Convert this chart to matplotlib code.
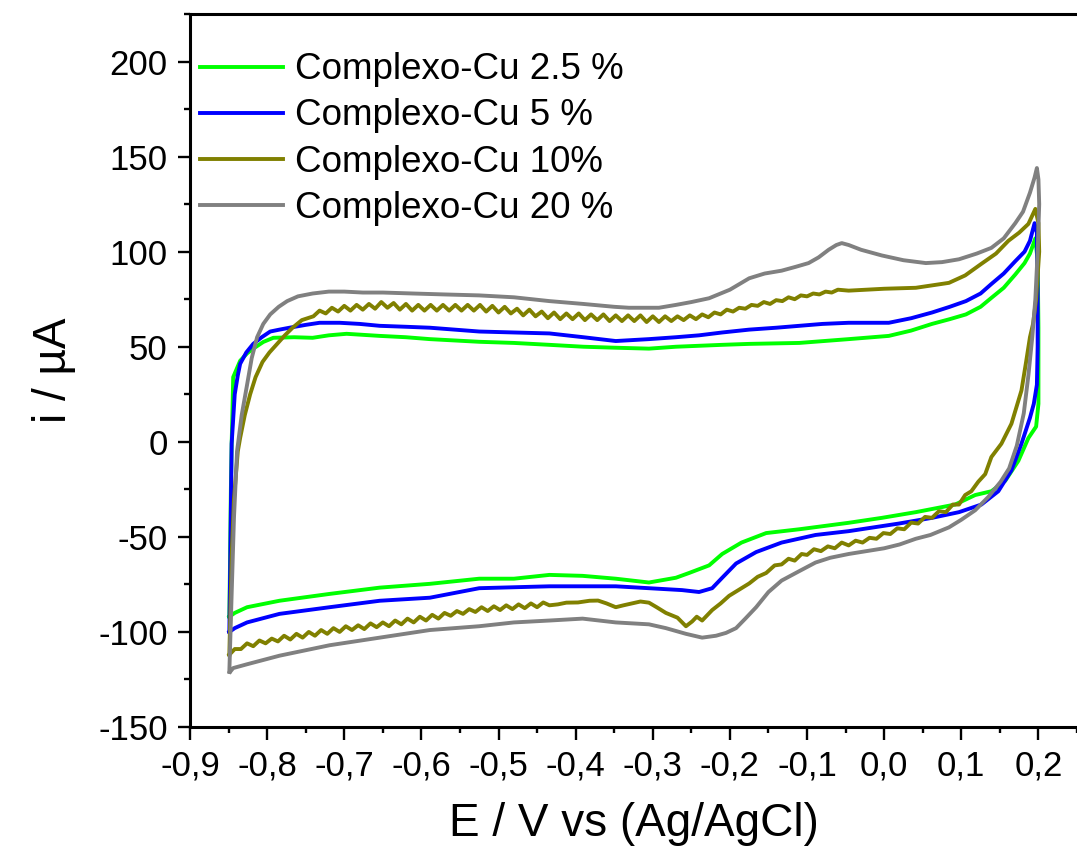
import matplotlib.pyplot as plt
from matplotlib.ticker import MultipleLocator

plt.rcParams['font.family'] = ['Liberation Sans', 'DejaVu Sans']

# cyclic voltammograms (E in V vs Ag/AgCl, i in uA)
labels = ["Complexo-Cu 2.5 %", "Complexo-Cu 5 %", "Complexo-Cu 10%", "Complexo-Cu 20 %"]
colors = ["#00FF00", "#0000FF", "#808000", "#808080"]

e_cu25 = [-0.849, -0.848, -0.847, -0.846, -0.845, -0.844, -0.835, -0.826, -0.818, -0.805, -0.792,
          -0.765, -0.741, -0.72, -0.697, -0.654, -0.62, -0.589, -0.525, -0.48, -0.434, -0.39,
          -0.35, -0.305, -0.27, -0.24, -0.21, -0.175, -0.11, -0.046, 0.006, 0.035, 0.062, 0.085,
          0.106, 0.125, 0.139, 0.155, 0.17, 0.182, 0.189, 0.196, 0.199, 0.2, 0.2, 0.197, 0.187,
          0.174, 0.157, 0.139, 0.118, 0.092, 0.041, -0.003, -0.046, -0.11, -0.153, -0.185, -0.21,
          -0.227, -0.253, -0.27, -0.305, -0.348, -0.391, -0.434, -0.48, -0.525, -0.589, -0.654,
          -0.719, -0.784, -0.826, -0.842, -0.849]
i_cu25 = [-92, -60, -25, -1, 15, 34, 42.6, 46.5, 49, 52.5, 54.7,
          55, 54.7, 56, 56.8, 55.7, 55, 54, 52.6, 52, 51, 50,
          49.5, 49, 50, 50.5, 51, 51.5, 52, 54, 55.7, 58.5, 62, 64.5,
          67, 71, 75.7, 81, 88, 94, 99, 107, 95, 60, 20, 8, 2,
          -10, -20.5, -26, -28, -33, -37, -40, -42.6, -46, -48, -53, -59,
          -65, -69, -71.5, -74, -72, -70.5, -70, -72, -72, -74.7, -76.7,
          -80, -83.6, -87, -90, -92]

e_cu5 = [-0.849, -0.848, -0.847, -0.846, -0.844, -0.842, -0.838, -0.835, -0.827, -0.818, -0.807,
         -0.796, -0.784, -0.771, -0.75, -0.732, -0.706, -0.68, -0.654, -0.62, -0.589, -0.525,
         -0.48, -0.434, -0.39, -0.348, -0.305, -0.27, -0.24, -0.21, -0.175, -0.14, -0.11, -0.08,
         -0.046, 0.006, 0.035, 0.062, 0.085, 0.106, 0.125, 0.139, 0.155, 0.17, 0.182, 0.189,
         0.195, 0.198, 0.199, 0.199, 0.198, 0.194, 0.189, 0.178, 0.165, 0.148, 0.126, 0.097,
         0.062, 0.019, -0.046, -0.089, -0.133, -0.166, -0.192, -0.21, -0.223, -0.24, -0.262,
         -0.305, -0.348, -0.391, -0.434, -0.48, -0.525, -0.589, -0.654, -0.719, -0.784, -0.826,
         -0.842, -0.849]
i_cu5 = [-100, -70, -35, -1, 12, 25, 35, 41, 47, 51.5, 55,
         58, 59, 60, 61.5, 62.6, 62.6, 62, 61, 60.5, 60, 58,
         57.5, 57, 55, 53, 54, 55, 56, 57.5, 59, 60, 61, 62,
         62.6, 62.6, 65, 68, 71, 74, 78, 83, 88.5, 95, 100, 105.7,
         115, 110, 80, 50, 30, 20, 12.6, -1, -15, -26, -33, -37,
         -40, -43, -47, -49, -53, -58, -64, -71.5, -77, -79, -78,
         -77, -76, -76, -76, -76.5, -77, -82, -83.6, -87, -90.5, -95,
         -98, -100]

e_cu10 = [-0.849, -0.848, -0.846, -0.843, -0.838, -0.835, -0.829, -0.822, -0.815, -0.806, -0.797,
          -0.787, -0.777, -0.767, -0.755,
          -0.740, -0.732, -0.724, -0.716, -0.708, -0.700, -0.692, -0.684, -0.676, -0.668,
          -0.660, -0.652, -0.644, -0.636, -0.628, -0.620, -0.612, -0.604, -0.596, -0.588,
          -0.580, -0.572, -0.564, -0.556, -0.548, -0.540, -0.532, -0.524, -0.516, -0.508,
          -0.500, -0.492, -0.484, -0.476, -0.468, -0.460, -0.452, -0.444, -0.436, -0.428,
          -0.420, -0.412, -0.404, -0.396, -0.388, -0.380, -0.372, -0.364, -0.356, -0.348,
          -0.340, -0.332, -0.324, -0.316, -0.308, -0.300, -0.292, -0.284, -0.276, -0.268,
          -0.260, -0.252, -0.244, -0.236, -0.228, -0.220, -0.212, -0.204, -0.196, -0.188,
          -0.180, -0.172, -0.164, -0.156, -0.148, -0.140, -0.132, -0.124, -0.116, -0.108,
          -0.100, -0.092, -0.084, -0.076, -0.068, -0.060, -0.046,
          0.0, 0.041, 0.084, 0.105, 0.126, 0.145, 0.161, 0.175, 0.187,
          0.196, 0.2, 0.201, 0.197, 0.193, 0.189, 0.184, 0.178, 0.165, 0.152, 0.139,
          0.131, 0.122, 0.113, 0.105, 0.097, 0.089, 0.080, 0.071, 0.062, 0.053, 0.044, 0.035,
          0.026, 0.017, 0.008, -0.001, -0.010, -0.019, -0.028, -0.037, -0.046, -0.055, -0.064,
          -0.073, -0.082, -0.091, -0.100, -0.107, -0.116, -0.124, -0.133, -0.142, -0.153, -0.164,
          -0.175, -0.185, -0.201, -0.212, -0.223, -0.236, -0.243, -0.249, -0.257, -0.268, -0.283,
          -0.295, -0.305, -0.316, -0.327, -0.338, -0.348, -0.360, -0.371, -0.382, -0.397, -0.412,
          -0.423,
          -0.434, -0.442, -0.450, -0.458, -0.466, -0.474, -0.482, -0.490, -0.498, -0.506,
          -0.514, -0.522, -0.530, -0.538, -0.546, -0.554, -0.562, -0.570, -0.578, -0.586,
          -0.594, -0.602, -0.610, -0.618, -0.626, -0.634, -0.642, -0.650, -0.658, -0.666,
          -0.674, -0.682, -0.690, -0.698, -0.706, -0.714, -0.722, -0.730, -0.738, -0.746,
          -0.754, -0.762, -0.770, -0.778, -0.786, -0.794, -0.802, -0.810, -0.818, -0.826,
          -0.834, -0.842, -0.849]
i_cu10 = [-112, -95, -60, -30, -5, 2, 14, 25, 34, 42, 47,
          51.5, 56, 60, 64,
          66, 69, 67.5, 70.5, 68.5, 71.5, 69, 72, 69.5, 72.5,
          70, 73.5, 70.5, 73, 69.5, 72.5, 69, 72, 69, 72,
          69, 72, 69, 72, 69, 72, 69, 72, 68.5, 71.5,
          68, 71, 67.5, 70, 66.5, 69.5, 66, 68.5, 65, 68,
          64.5, 67.5, 64.5, 67.5, 64, 67, 64, 67, 63.5, 66.5,
          63.5, 66.5, 63.5, 66.5, 63, 66, 63, 66, 63.5, 66,
          64, 66.5, 64.5, 67, 65.5, 68, 67, 69.5, 68.5, 70.5,
          70, 72, 71.5, 73.5, 72.5, 74.5, 74, 76, 75, 77,
          76.5, 78, 77.5, 79, 78.5, 80, 79.5,
          80.5, 81, 83.6, 87.5, 93.6, 99, 105.7, 110, 114.6,
          122.5, 115, 100, 75, 62, 55, 42, 27, 9.5, -1, -8,
          -17, -21, -26, -28, -33, -33, -37, -36.5, -40, -39.5, -43, -42.5,
          -46, -45.5, -48.5, -48, -51, -50.5, -53, -52, -54.5, -53, -56,
          -55, -57.5, -56.5, -59.5, -59, -62.5, -61.5, -64.5, -65, -69, -71,
          -74.5, -77, -81, -85, -88.5, -94, -92, -94.5, -97, -92.5, -90,
          -87, -84.6, -84, -85, -86, -87, -85, -83.5, -83.6, -84.5, -84.6,
          -85.5,
          -86, -84.5, -87, -85, -87.5, -85.5, -88, -86, -88.5, -86.5,
          -89, -87, -89.5, -88, -90.5, -89, -91.5, -90, -93, -91,
          -94, -92, -95, -93, -96, -94, -97, -95, -97.5, -95.5,
          -98.5, -96.5, -99, -97, -100, -98, -101, -99, -102, -100,
          -103, -101, -104, -102, -105, -103.5, -106, -104.5, -107.5, -106,
          -109, -109, -112]

e_cu20 = [-0.849, -0.846, -0.843, -0.839, -0.833, -0.826, -0.82, -0.813, -0.805, -0.796, -0.785,
          -0.774, -0.76, -0.741, -0.72, -0.7, -0.676, -0.65, -0.611, -0.57, -0.525, -0.48,
          -0.434, -0.39, -0.35, -0.331, -0.31, -0.292, -0.27, -0.25, -0.227, -0.2, -0.175, -0.155,
          -0.133, -0.115, -0.098, -0.085, -0.072, -0.062, -0.055, -0.046, -0.03, -0.003, 0.025,
          0.054, 0.075, 0.097, 0.12, 0.139, 0.155, 0.17, 0.18, 0.189, 0.195, 0.198, 0.2, 0.201,
          0.199, 0.196, 0.192, 0.187, 0.181, 0.172, 0.162, 0.151, 0.135, 0.118, 0.1, 0.084, 0.06,
          0.041, 0.02, 0.0, -0.046, -0.07, -0.089, -0.11, -0.133, -0.15, -0.166, -0.18, -0.192,
          -0.205, -0.218, -0.236, -0.257, -0.283, -0.305, -0.348, -0.391, -0.434, -0.48, -0.525,
          -0.589, -0.654, -0.719, -0.784, -0.826, -0.844, -0.848]
i_cu20 = [-121, -80, -40, -5, 14, 30, 44, 55, 62, 67, 71,
          74, 76.5, 78, 79, 79, 78.5, 78.5, 78, 77.5, 77, 76,
          74, 72.5, 71, 70.5, 70.5, 70.5, 72, 73.5, 75.5, 80, 86, 88.5,
          90, 92, 94, 97, 101, 103.5, 104.5, 103.5, 101, 98, 95.5,
          94, 94.5, 96, 99, 102, 107, 115, 121, 131, 139, 144, 138, 125,
          100, 75, 55, 35, 15, -2, -14, -21, -29, -36, -41, -45, -49,
          -51, -54, -56, -59, -61, -63.5, -68, -73, -79, -87, -93, -98,
          -100.5, -102, -103, -101, -98, -96, -95, -93, -94, -95, -97,
          -99, -103, -107, -112.5, -117, -119, -121]

x_ticks = [-0.9, -0.8, -0.7, -0.6, -0.5, -0.4, -0.3, -0.2, -0.1, 0.0, 0.1, 0.2]
x_ticklabels = ["-0,9", "-0,8", "-0,7", "-0,6", "-0,5", "-0,4", "-0,3", "-0,2", "-0,1", "0,0", "0,1", "0,2"]
y_ticks = [-150, -100, -50, 0, 50, 100, 150, 200]
y_ticklabels = ["-150", "-100", "-50", "0", "50", "100", "150", "200"]

series = [(e_cu25, i_cu25), (e_cu5, i_cu5), (e_cu10, i_cu10), (e_cu20, i_cu20)]

fig = plt.figure(figsize=(10.77, 8.6), dpi=100)
ax = fig.add_axes([190 / 1077, 1 - 727 / 860, 1 - 190 / 1077, (727 - 14) / 860])

for (xs, ys), lbl, c in zip(series, labels, colors):
    ax.plot(xs, ys, color=c, linewidth=2.8, label=lbl, solid_joinstyle="round")

ax.set_xlim(-0.9, 0.25)
ax.set_ylim(-150, 225)
ax.set_xticks(x_ticks)
ax.set_xticklabels(x_ticklabels)
ax.set_yticks(y_ticks)
ax.set_yticklabels(y_ticklabels)
ax.xaxis.set_minor_locator(MultipleLocator(0.05))
ax.yaxis.set_minor_locator(MultipleLocator(25))
ax.tick_params(which="major", direction="out", length=9, width=1.7, labelsize=25, pad=7)
ax.tick_params(which="minor", direction="out", length=4.5, width=1.7)
ax.tick_params(top=False, right=False, which="both")

for side in ["left", "bottom", "top"]:
    ax.spines[side].set_linewidth(2.2)
ax.spines["right"].set_visible(False)

ax.set_xlabel("E / V vs (Ag/AgCl)", fontsize=33, labelpad=14)
ax.set_ylabel("i / µA", fontsize=33, labelpad=16)

ax.legend(loc="upper left", bbox_to_anchor=(0.0, 0.96), frameon=False, fontsize=26.5,
          handlelength=2.25, handletextpad=0.33, labelspacing=0.3, borderaxespad=0.0,
          borderpad=0.27)

fig.savefig("out.png", dpi=100)
